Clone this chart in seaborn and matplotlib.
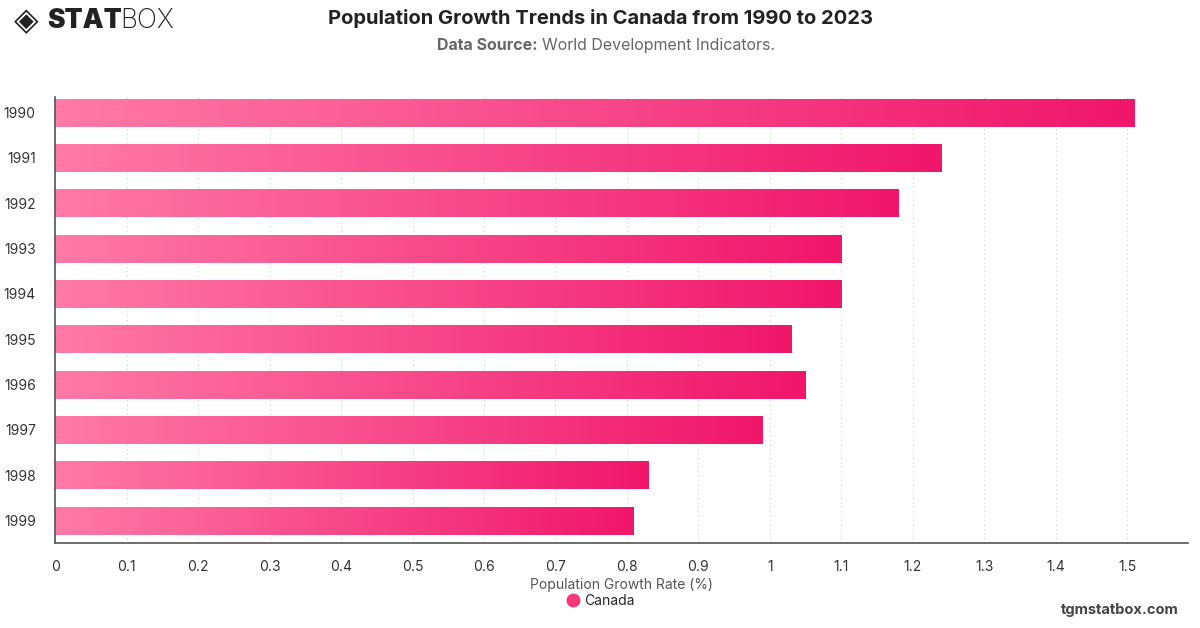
import numpy as np
import matplotlib.pyplot as plt
import matplotlib.colors as colors
from matplotlib.lines import Line2D
import pandas as pd
import seaborn as sns

years = ["1990", "1991", "1992", "1993", "1994", "1995", "1996", "1997", "1998", "1999"]
growth = [1.51, 1.24, 1.18, 1.10, 1.10, 1.03, 1.05, 0.99, 0.83, 0.81]
xticks = [0, 0.1, 0.2, 0.3, 0.4, 0.5, 0.6, 0.7, 0.8, 0.9, 1, 1.1, 1.2, 1.3, 1.4, 1.5]
xtick_labels = ["0", "0.1", "0.2", "0.3", "0.4", "0.5", "0.6", "0.7", "0.8", "0.9",
                "1", "1.1", "1.2", "1.3", "1.4", "1.5"]

df = pd.DataFrame({"year": years, "growth": growth})

sns.set_style("white")
plt.rcParams['font.family'] = ['Inter', 'DejaVu Sans']

fig = plt.figure(figsize=(12, 6.28), dpi=100)
ax = fig.add_axes([0.046, 0.135, 0.944, 0.711])

sns.barplot(data=df, x="growth", y="year", orient="h", width=0.62,
            color="#f5387a", ax=ax, zorder=2)

# gradient fill, light pink on the left to deep pink on the right
grad_cmap = colors.LinearSegmentedColormap.from_list("pk", ["#ff7aa6", "#f0166a"])
gradient = np.linspace(0, 1, 256).reshape(1, -1)
for bar in ax.patches:
    x0, y0 = bar.get_x(), bar.get_y()
    w, h = bar.get_width(), bar.get_height()
    bar.set_facecolor("none")
    bar.set_edgecolor("none")
    im = ax.imshow(gradient, cmap=grad_cmap, aspect="auto",
                   extent=[x0, x0 + w, y0 + h, y0], zorder=2)
    im.set_clip_path(bar)

ax.set_xlim(0, 1.585)
ax.set_ylim(9.5, -0.35)
ax.set_xticks(xticks)
ax.set_xticklabels(xtick_labels)
ax.tick_params(axis="x", length=0, labelsize=10, colors="#333333", pad=12)
ax.tick_params(axis="y", length=0, labelsize=10, colors="#333333", pad=14)
ax.xaxis.grid(True, linestyle=(0, (1, 3)), color="#d0d0d0", linewidth=0.8, zorder=0)
ax.yaxis.grid(False)
for s in ["top", "right"]:
    ax.spines[s].set_visible(False)
for s in ["left", "bottom"]:
    ax.spines[s].set_color("#555555")
    ax.spines[s].set_linewidth(1.2)
ax.set_ylabel("")
ax.set_xlabel("Population Growth Rate (%)", fontsize=10, color="#555555", labelpad=3)

# legend
leg_handle = Line2D([], [], marker="o", linestyle="none", markersize=9,
                    markerfacecolor="#f5387a", markeredgecolor="#f5387a")
fig.legend([leg_handle], ["Canada"], loc="center", bbox_to_anchor=(0.5, 0.043),
           frameon=False, fontsize=10, handletextpad=0.3, handlelength=1.0)

# titles
fig.text(0.5, 0.97, "Population Growth Trends in Canada from 1990 to 2023",
         ha="center", va="center", fontsize=14.5, fontweight="bold", color="#222222")
fig.text(0.364, 0.927, "Data Source:", ha="left", va="center", fontsize=11.5,
         fontweight="bold", color="#666666")
fig.text(0.452, 0.927, "World Development Indicators.", ha="left", va="center",
         fontsize=11.5, color="#666666")

# logo
fig.text(0.012, 0.966, "\u25c8", ha="left", va="center", fontsize=23,
         color="#222222", family=["DejaVu Sans"])
fig.text(0.039, 0.966, "STAT", ha="left", va="center", fontsize=19,
         fontweight="black", color="#222222")
fig.text(0.1, 0.966, "BOX", ha="left", va="center", fontsize=19,
         fontweight="light", color="#222222")

fig.text(0.982, 0.018, "tgmstatbox.com", ha="right", va="bottom", fontsize=10.5,
         fontweight="bold", color="#444444")

plt.savefig("out.png", dpi=100)
plt.close()
